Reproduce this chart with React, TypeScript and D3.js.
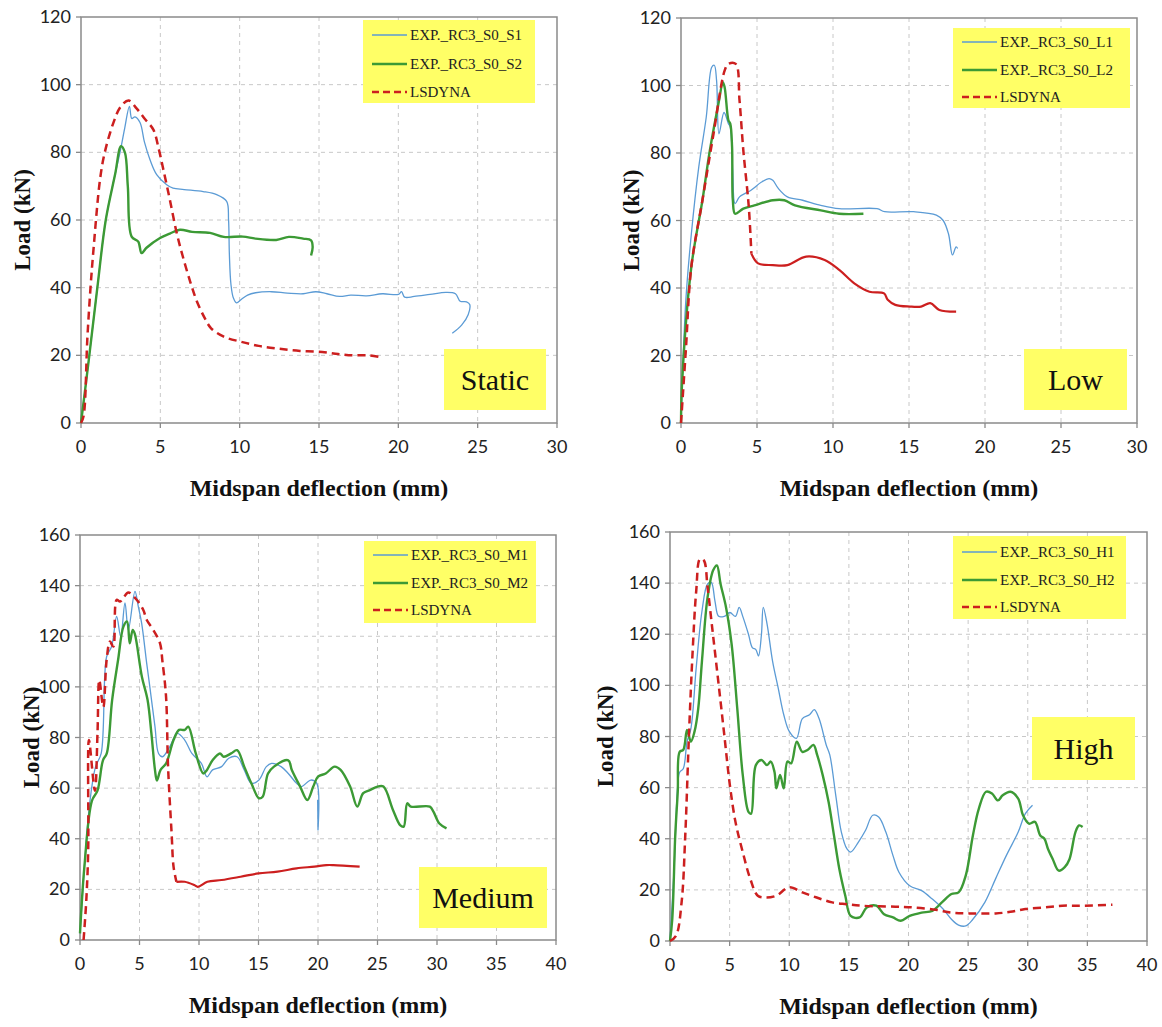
import React from "react";
import * as d3 from "d3";

type Pt = [number, number];

// ---------- DATA ----------
const xTicks30 = [0, 5, 10, 15, 20, 25, 30];
const xTicks40 = [0, 5, 10, 15, 20, 25, 30, 35, 40];
const yTicks120 = [0, 20, 40, 60, 80, 100, 120];
const yTicks160 = [0, 20, 40, 60, 80, 100, 120, 140, 160];

const panelLabels = ["Static", "Low", "Medium", "High"];
const legendStatic = ["EXP._RC3_S0_S1", "EXP._RC3_S0_S2", "LSDYNA"];
const legendLow = ["EXP._RC3_S0_L1", "EXP._RC3_S0_L2", "LSDYNA"];
const legendMedium = ["EXP._RC3_S0_M1", "EXP._RC3_S0_M2", "LSDYNA"];
const legendHigh = ["EXP._RC3_S0_H1", "EXP._RC3_S0_H2", "LSDYNA"];

const staticS1: Pt[] = [[0,0],[0.5,19],[1.03,40],[1.56,60],[2.15,73.5],[2.46,80],[2.75,87],[3.05,93.6],[3.2,90],[3.4,90.5],[3.72,88.8],[4.0,83],[4.35,77.8],[4.77,73.4],[5.4,70.4],[5.8,69.4],[6.5,69],[7.7,68.4],[8.55,67.5],[9.18,65.5],[9.3,60],[9.35,50],[9.45,41],[9.6,37],[9.8,35.5],[10.1,36.5],[10.5,37.8],[11,38.5],[12,38.8],[13,38.4],[14,38.2],[14.8,38.8],[15.5,38.2],[16.3,37.4],[17,37.8],[18,37.6],[19,38.2],[20,38],[20.2,38.8],[20.4,37.2],[21,37.4],[22,38],[23,38.6],[23.6,38.2],[23.9,36],[24.3,35.8],[24.5,35],[24.4,32],[24.0,29],[23.4,26.5]];
const staticS2: Pt[] = [[0,0],[0.5,19],[1.03,40],[1.56,60],[2.15,73.5],[2.52,81.8],[2.77,79.9],[2.95,70],[3.19,55.1],[3.61,53.6],[3.82,50.2],[4.13,51.8],[4.98,54.7],[5.6,56],[6.24,57.1],[7,56.5],[8.13,56.2],[9,55],[10.2,55.1],[11,54.5],[12.3,54.1],[13.1,55],[14,54.5],[14.5,54],[14.6,52],[14.5,49.5]];
const staticFE: Pt[] = [[0,0],[0.16,2],[0.4,25],[0.6,40],[0.8,52],[1.2,72],[1.5,80],[2.04,88.7],[2.5,93.5],[3.0,95.3],[3.5,93],[4.0,90],[4.56,86.7],[4.9,81],[5.19,74.9],[5.6,66],[6.03,56.2],[6.4,49.5],[6.9,41.5],[7.3,36],[7.8,31],[8.2,28],[9,25.5],[10.1,24],[11.2,22.8],[12.4,22],[13.8,21.3],[15.2,21],[16.2,20.4],[17.1,20],[18.2,20],[19,19.3]];

const lowL1: Pt[] = [[0,0],[0.1,14],[0.32,36.5],[0.68,56],[1.17,75.9],[1.66,90.6],[2.02,105.4],[2.19,106],[2.34,101.5],[2.5,85.7],[2.83,92],[3.12,88.7],[3.24,87.7],[3.4,75],[3.56,65],[3.85,67],[4.58,68.9],[5.3,71.4],[5.8,72.4],[6.04,71.9],[6.4,69.5],[7.0,67],[8,66],[9.2,64.5],[10.4,63.5],[12.9,63.5],[13.4,62.6],[15.3,62.6],[16.8,61.6],[17.25,60],[17.6,56],[17.86,49.8],[18.1,52.2],[18.2,51.7]];
const lowL2: Pt[] = [[0,0],[0.07,11.8],[0.68,46.3],[1.41,66],[1.9,80.8],[2.5,95.5],[2.75,101],[2.87,99.5],[3.12,89.7],[3.24,88.7],[3.36,81.8],[3.41,66],[3.56,62],[4.1,63.5],[4.83,64.5],[6.04,66],[6.8,66],[7.5,64.5],[9.2,63],[10.4,62],[12,62]];
const lowFE: Pt[] = [[0,0],[0.32,21.7],[0.68,46.3],[1.41,66],[2.14,85.7],[2.87,104.4],[3.12,106.4],[3.6,106.4],[3.85,95.6],[4.1,80.8],[4.46,64],[4.63,50.2],[5.07,47.3],[6.04,46.8],[7,46.8],[8.23,49.3],[9.45,48.3],[10.43,45.3],[11.4,41.4],[12.4,38.9],[13.36,38.4],[13.6,36.5],[14.1,35],[15.06,34.5],[15.8,34.5],[16.4,35.5],[17,33.5],[18.1,33]];

const mediumM1: Pt[] = [[0,2.6],[0.37,29],[0.84,55],[1.31,68.5],[1.78,73.7],[2.24,112],[2.66,116],[3.08,127.8],[3.42,119.9],[3.78,133.2],[4.06,122.5],[4.62,137.7],[4.9,131.7],[5.18,125.2],[5.6,109.5],[5.83,101.4],[6.3,84.3],[6.6,73.7],[6.93,72.4],[7.55,76.4],[8.17,81.6],[8.8,79],[9.4,73.7],[10.2,69.8],[10.67,64.5],[11.14,67.2],[11.9,68.5],[12.5,71.8],[13.2,72.4],[13.8,67.2],[14.4,61.9],[15.04,63.2],[15.66,68.5],[16.1,69.8],[16.9,68.5],[17.5,65.8],[18.2,61.9],[18.6,60.6],[19.4,63.2],[19.9,61.9],[20,43.5],[19.97,55.3]];
const mediumM2: Pt[] = [[0,2.6],[0.37,29],[1,55],[1.47,59],[1.93,71],[2.25,73.7],[2.7,94.8],[3.2,110.6],[3.65,123.8],[3.96,125.8],[4.18,117.2],[4.43,122.5],[4.6,121],[5.2,104],[5.68,94.8],[6,81.6],[6.3,67.2],[6.46,63],[6.77,67.2],[7.24,69.8],[7.86,79],[8.33,83],[8.8,83],[9.1,84.3],[9.73,73.7],[10.36,65.8],[10.67,67.2],[11.14,71],[11.76,73.7],[12.07,72.4],[12.7,73.7],[13.2,75],[13.8,68.5],[14.4,61.9],[15.04,56],[15.35,56.6],[15.8,65.8],[16.3,68.5],[17.5,71],[17.8,67.2],[18.5,60.6],[19.1,55.3],[19.6,60.6],[20,64.5],[20.65,65.8],[21.4,68.5],[21.9,67.2],[22.7,60.6],[23.3,52.7],[23.8,58],[24.4,59.3],[25,60.6],[25.5,60.6],[26.3,51.4],[26.9,45.4],[27.2,44.8],[27.5,54],[27.8,52.7],[29.4,52.7],[29.7,50.7],[30.2,46],[30.8,44.1]];
const mediumFE: Pt[] = [[0.3,0],[0.53,15.8],[0.69,35.6],[0.75,79],[1.25,59],[1.47,81.6],[1.62,102.7],[1.96,92],[2.24,110.7],[2.52,117.9],[2.8,115.9],[3.08,134.4],[3.36,133.7],[3.64,135.1],[4.06,137.3],[4.76,134.4],[5.32,130.4],[5.6,126.5],[6.16,122.5],[6.72,117.3],[6.93,110],[7.23,96.2],[7.4,68.5],[7.7,42],[7.86,29],[8.1,23],[8.8,23],[9.6,21.7],[9.9,21],[10.7,23],[11.9,23.7],[13.5,25],[15,26.3],[16.6,27],[18.2,28.3],[19.7,29],[20.7,29.6],[21.3,29.6],[23.5,29]];

const highH1: Pt[] = [[0,0],[0.34,28],[0.65,61],[0.81,66],[1.12,67.5],[1.43,78],[1.75,83],[2.2,107],[2.68,129],[3.15,139.7],[3.46,140.3],[3.77,133],[4.08,127],[4.55,127],[5.02,128.5],[5.49,127],[5.8,130.5],[6.1,127],[6.58,120],[6.9,114.8],[7.2,114],[7.42,111.5],[7.67,120],[7.82,130.5],[8.14,124],[8.6,109.5],[9.07,99],[9.54,88.5],[10,82],[10.6,79.3],[11.1,87],[11.7,88.5],[12.1,90.5],[12.5,87],[13.1,76.7],[13.4,72.8],[13.9,57],[14.37,42.6],[14.84,36],[15.15,34.8],[15.8,38.7],[16.4,43.3],[17,49.2],[17.5,48.5],[18.1,42.6],[18.7,33.4],[19.2,26.9],[20.1,21.6],[21.1,19.7],[22,16.4],[22.9,12.5],[23.6,8.5],[24.2,6.2],[24.8,5.9],[25.4,8.5],[26.4,15.1],[27.3,24.3],[28.2,33.4],[29.2,42.6],[29.8,49.8],[30.4,53.1]];
const highH2: Pt[] = [[0,0],[0.19,8.5],[0.44,41.3],[0.65,58.4],[0.81,74],[1.12,74.8],[1.43,82.6],[1.75,78],[2.06,82],[2.37,91],[2.68,109.5],[3.15,134.4],[3.62,145],[3.93,146.9],[4.24,139.7],[4.7,130.5],[5.17,116],[5.64,91],[6.1,65],[6.58,50.5],[6.8,49.8],[7.2,68.8],[7.67,70.8],[8.14,68.8],[8.45,70.2],[8.76,66.2],[8.92,59.7],[9.23,65],[9.54,59.7],[9.85,70.2],[10.16,69.5],[10.63,78],[11.1,74],[11.56,74.8],[12.03,76.7],[12.34,72.8],[12.8,65],[13.3,54.4],[13.75,41.3],[14.2,28.2],[14.7,17.7],[15.15,9.8],[15.9,9.2],[16.5,13.1],[17.3,13.8],[17.95,10.5],[18.7,9.2],[19.35,7.9],[20.1,9.8],[21.1,11.1],[22,11.8],[22.8,15.1],[23.6,18.4],[24.2,19],[24.8,25.6],[25.4,41.3],[25.9,51.8],[26.5,58.4],[27,57.7],[27.5,55],[27.9,57],[28.55,58.4],[29.2,55.7],[29.6,49.2],[30.1,45.9],[30.6,46.6],[31.05,41.3],[31.4,40],[31.7,36],[32.1,32],[32.6,27.5],[33.1,28.9],[33.5,32],[34,42.6],[34.3,45.2],[34.6,44.6]];
const highFE: Pt[] = [[0,0],[0.5,2],[0.97,15],[1.28,41.3],[1.59,80.6],[1.9,113.4],[2.2,137],[2.52,149.5],[2.84,148.9],[3.15,138.4],[3.6,120],[4.08,100.3],[4.55,80.7],[5.02,61],[5.49,46.6],[6.1,34.8],[6.73,24.3],[7.36,17.7],[8,17],[8.9,17.7],[10,21],[11.1,19],[12.3,17],[13.6,15.1],[14.8,14.4],[16.1,13.8],[18.9,13.4],[20.45,13.1],[22.3,12.2],[23.6,11.1],[25.1,10.8],[27.3,10.8],[28.55,11.4],[29.8,12.5],[31.4,13.1],[32.9,13.8],[34.5,13.8],[37.1,14.2]];

// ---------- STYLE / LAYOUT ----------
const BLUE = "#5b9bd5";
const GREEN = "#3c9a35";
const RED = "#cc1f1f";
const YELLOW = "#ffff66";
const AXIS = "#8a8a8a";
const GRID = "#c8c8c8";

interface PanelCfg {
  x0: number; x1: number; yT: number; yB: number;
  xTicks: number[]; yTicks: number[];
  s1: Pt[]; s2: Pt[]; fe: Pt[];
  legend: string[];
  leg: { x: number; y: number; w: number; h: number; rows: number[] };
  lab: { x: number; y: number; w: number; h: number; text: string };
  yTitleDx: number;
  solidFrom: number;
}

const panels: PanelCfg[] = [
  { x0: 81, x1: 557, yT: 17, yB: 423, xTicks: xTicks30, yTicks: yTicks120, s1: staticS1, s2: staticS2, fe: staticFE, legend: legendStatic,
    leg: { x: 363, y: 20, w: 172, h: 83, rows: [15, 44, 72] }, lab: { x: 444, y: 349, w: 102, h: 61, text: panelLabels[0] }, yTitleDx: -59, solidFrom: Infinity },
  { x0: 681, x1: 1137, yT: 18, yB: 423, xTicks: xTicks30, yTicks: yTicks120, s1: lowL1, s2: lowL2, fe: lowFE, legend: legendLow,
    leg: { x: 953, y: 28, w: 177, h: 80, rows: [14, 42, 69] }, lab: { x: 1024, y: 349, w: 103, h: 61, text: panelLabels[1] }, yTitleDx: -50, solidFrom: 4.63 },
  { x0: 80, x1: 556, yT: 535, yB: 940, xTicks: xTicks40, yTicks: yTicks160, s1: mediumM1, s2: mediumM2, fe: mediumFE, legend: legendMedium,
    leg: { x: 364, y: 541, w: 172, h: 82, rows: [14, 42, 69] }, lab: { x: 419, y: 867, w: 128, h: 61, text: panelLabels[2] }, yTitleDx: -49, solidFrom: 8.1 },
  { x0: 670, x1: 1147, yT: 532, yB: 941, xTicks: xTicks40, yTicks: yTicks160, s1: highH1, s2: highH2, fe: highFE, legend: legendHigh,
    leg: { x: 953, y: 536, w: 173, h: 83, rows: [16, 44, 71] }, lab: { x: 1032, y: 717, w: 103, h: 63, text: panelLabels[3] }, yTitleDx: -65, solidFrom: Infinity },
];

function Panel({ p }: { p: PanelCfg }) {
  const xMax = p.xTicks[p.xTicks.length - 1];
  const yMax = p.yTicks[p.yTicks.length - 1];
  const x = d3.scaleLinear().domain([0, xMax]).range([p.x0, p.x1]);
  const y = d3.scaleLinear().domain([0, yMax]).range([p.yB, p.yT]);
  const gen = d3.line<Pt>().x((d) => x(d[0])).y((d) => y(d[1])).curve(d3.curveCatmullRom.alpha(0.5));
  const feDashed = p.fe.filter((d) => d[0] <= p.solidFrom);
  const feSolid = p.fe.filter((d) => d[0] >= p.solidFrom);
  const serif = "'Liberation Serif', 'Times New Roman', serif";
  const sans = "Lato, 'Open Sans', sans-serif";
  const cx = (p.x0 + p.x1) / 2;
  const cy = (p.yT + p.yB) / 2;
  const colors = [BLUE, GREEN, RED];
  const widths = [1.3, 2.4, 2.4];
  return (
    <g>
      {p.xTicks.slice(1, -1).map((t) => (
        <line key={"gx" + t} x1={x(t)} x2={x(t)} y1={p.yT} y2={p.yB} stroke={GRID} strokeWidth={1} strokeDasharray="4,4" />
      ))}
      {p.yTicks.slice(1, -1).map((t) => (
        <line key={"gy" + t} x1={p.x0} x2={p.x1} y1={y(t)} y2={y(t)} stroke={GRID} strokeWidth={1} strokeDasharray="4,4" />
      ))}
      <rect x={p.x0} y={p.yT} width={p.x1 - p.x0} height={p.yB - p.yT} fill="none" stroke={AXIS} strokeWidth={1.5} />
      {p.xTicks.map((t) => (
        <g key={"tx" + t}>
          <line x1={x(t)} x2={x(t)} y1={p.yB} y2={p.yB + 5} stroke={AXIS} strokeWidth={1.3} />
          <text x={x(t)} y={p.yB + 30} textAnchor="middle" fontFamily={sans} fontSize={18} fill="#222">{t}</text>
        </g>
      ))}
      {p.yTicks.map((t) => (
        <g key={"ty" + t}>
          <line x1={p.x0 - 5} x2={p.x0} y1={y(t)} y2={y(t)} stroke={AXIS} strokeWidth={1.3} />
          <text x={p.x0 - 10} y={y(t) + 6} textAnchor="end" fontFamily={sans} fontSize={18} fill="#222">{t}</text>
        </g>
      ))}
      <text x={cx} y={p.yB + 73} textAnchor="middle" fontFamily={serif} fontWeight="bold" fontSize={24} fill="#111">Midspan deflection (mm)</text>
      <text transform={`translate(${p.x0 + p.yTitleDx + 8},${cy}) rotate(-90)`} textAnchor="middle" fontFamily={serif} fontWeight="bold" fontSize={23} fill="#111">Load (kN)</text>
      <path d={gen(p.s1) || ""} fill="none" stroke={BLUE} strokeWidth={1.3} strokeLinejoin="round" />
      <path d={gen(p.s2) || ""} fill="none" stroke={GREEN} strokeWidth={2.4} strokeLinejoin="round" />
      <path d={gen(feDashed) || ""} fill="none" stroke={RED} strokeWidth={2.5} strokeDasharray="8,5" />
      {feSolid.length > 1 && <path d={gen(feSolid) || ""} fill="none" stroke={RED} strokeWidth={2.2} strokeLinejoin="round" />}
      <rect x={p.leg.x} y={p.leg.y} width={p.leg.w} height={p.leg.h} fill={YELLOW} />
      {p.legend.map((name, i) => (
        <g key={name}>
          <line x1={p.leg.x + 9} x2={p.leg.x + 44} y1={p.leg.y + p.leg.rows[i]} y2={p.leg.y + p.leg.rows[i]} stroke={colors[i]} strokeWidth={widths[i]} strokeDasharray={i === 2 ? "7,4" : undefined} />
          <text x={p.leg.x + 47} y={p.leg.y + p.leg.rows[i] + 5} fontFamily={serif} fontSize={15} fill="#222">{name}</text>
        </g>
      ))}
      <rect x={p.lab.x} y={p.lab.y} width={p.lab.w} height={p.lab.h} fill={YELLOW} />
      <text x={p.lab.x + p.lab.w / 2} y={p.lab.y + p.lab.h / 2 + 10} textAnchor="middle" fontFamily={serif} fontSize={30} fill="#111">{p.lab.text}</text>
    </g>
  );
}

export default function App() {
  return (
    <svg width={1162} height={1027} style={{ position: "absolute", left: 0, top: 0, background: "#fff" }}>
      <rect width={1162} height={1027} fill="#fff" />
      {panels.map((p, i) => <Panel key={i} p={p} />)}
    </svg>
  );
}
